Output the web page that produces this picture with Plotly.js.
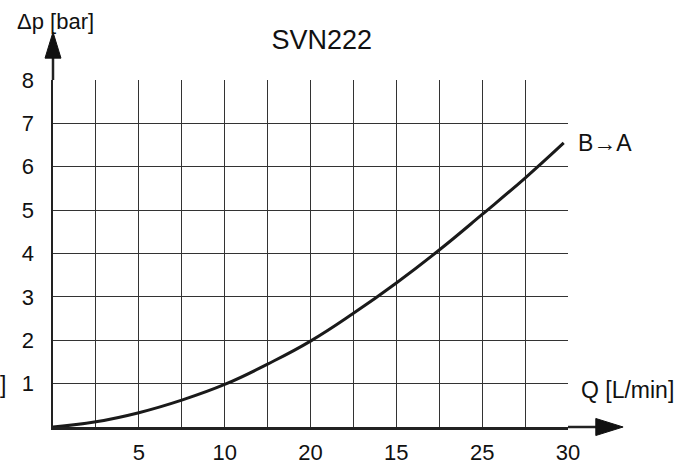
<!DOCTYPE html>
<html>
<head>
<meta charset="utf-8">
<script src="https://cdn.plot.ly/plotly-3.0.1.min.js"></script>
<style>html,body{margin:0;padding:0;background:#fff;}#chart{width:689px;height:467px;}</style>
</head>
<body>
<div id="chart"></div>
<script>
// Data
const flowQ = [0, 2.5, 5, 7.5, 10, 12.5, 15, 17.5, 20, 22.5, 25, 27.5, 29.75];
const pressureDrop = [0, 0.12, 0.33, 0.62, 0.98, 1.45, 1.98, 2.62, 3.32, 4.08, 4.9, 5.74, 6.55];
const xTickVals = [2.5, 5, 7.5, 10, 12.5, 15, 17.5, 20, 22.5, 25, 27.5, 30];
const xTickText = ['', '5', '', '10', '', '20', '', '15', '', '25', '', '30'];
const yTickVals = [1, 2, 3, 4, 5, 6, 7, 8];
const yTickText = ['1', '2', '3', '4', '5', '6', '7', '8'];
const chartTitle = 'SVN222';
const seriesLabel = 'B→A';
const xLabel = 'Q [L/min]';
const yLabel = 'Δp [bar]';

const FONT = 'Liberation Sans, Arial, sans-serif';
const INK = '#111';

const trace = {
  x: flowQ, y: pressureDrop, type: 'scatter', mode: 'lines',
  line: {color: '#1a1a1a', width: 3, shape: 'spline', smoothing: 1.3},
  hoverinfo: 'skip', showlegend: false
};

const layout = {
  width: 689, height: 467,
  margin: {l: 53, r: 121, t: 80, b: 40, pad: 0},
  paper_bgcolor: '#fff', plot_bgcolor: '#fff',
  font: {family: FONT, size: 23, color: INK},
  title: {text: chartTitle, font: {family: FONT, size: 27, color: INK},
          xref: 'paper', yref: 'paper', x: 0.522, xanchor: 'center', y: 1.1, yanchor: 'middle'},
  xaxis: {
    range: [0, 30], tickmode: 'array', tickvals: xTickVals, ticktext: xTickText,
    showgrid: true, gridcolor: '#333', gridwidth: 1,
    showline: true, linecolor: '#222', linewidth: 2.5,
    zeroline: false, ticks: '', ticklabelstandoff: 4,
    tickfont: {family: FONT, size: 22, color: INK}, fixedrange: true
  },
  yaxis: {
    range: [0, 8], tickmode: 'array', tickvals: yTickVals, ticktext: yTickText,
    showgrid: true, gridcolor: '#333', gridwidth: 1,
    showline: true, linecolor: '#222', linewidth: 2.5,
    zeroline: false, ticks: '', ticklabelstandoff: 12,
    tickfont: {family: FONT, size: 22, color: INK}, fixedrange: true
  },
  shapes: [
    // y axis arrow
    {type: 'line', xref: 'paper', yref: 'paper', x0: 0, x1: 0, y0: 1, y1: 1.07,
     line: {color: '#222', width: 2.5}},
    {type: 'path', xref: 'paper', yref: 'paper',
     path: 'M -0.0155 1.063 L 0.0155 1.063 L 0 1.138 Z',
     fillcolor: '#111', line: {color: '#111', width: 1}},
    // x axis arrow
    {type: 'line', xref: 'paper', yref: 'paper', x0: 1, x1: 1.06, y0: 0, y1: 0,
     line: {color: '#222', width: 2.5}},
    {type: 'path', xref: 'paper', yref: 'paper',
     path: 'M 1.054 -0.0245 L 1.054 0.0245 L 1.107 0 Z',
     fillcolor: '#111', line: {color: '#111', width: 1}}
  ],
  annotations: [
    {text: yLabel, xref: 'paper', yref: 'paper', x: -0.074, y: 1.168, xanchor: 'left', yanchor: 'middle',
     showarrow: false, font: {family: FONT, size: 22, color: INK}},
    {text: xLabel, xref: 'paper', yref: 'paper', x: 1.021, y: 0.107, xanchor: 'left', yanchor: 'middle',
     showarrow: false, font: {family: FONT, size: 23, color: INK}},
    {text: seriesLabel, xref: 'paper', yref: 'paper', x: 1.015, y: 0.818, xanchor: 'left', yanchor: 'middle',
     showarrow: false, font: {family: FONT, size: 23, color: INK}},
    {text: ']', xref: 'paper', yref: 'paper', x: -0.088, y: 0.12, xanchor: 'right', yanchor: 'middle',
     showarrow: false, font: {family: FONT, size: 23, color: INK}}
  ]
};

Plotly.newPlot('chart', [trace], layout, {displayModeBar: false, staticPlot: true});
</script>
</body>
</html>
